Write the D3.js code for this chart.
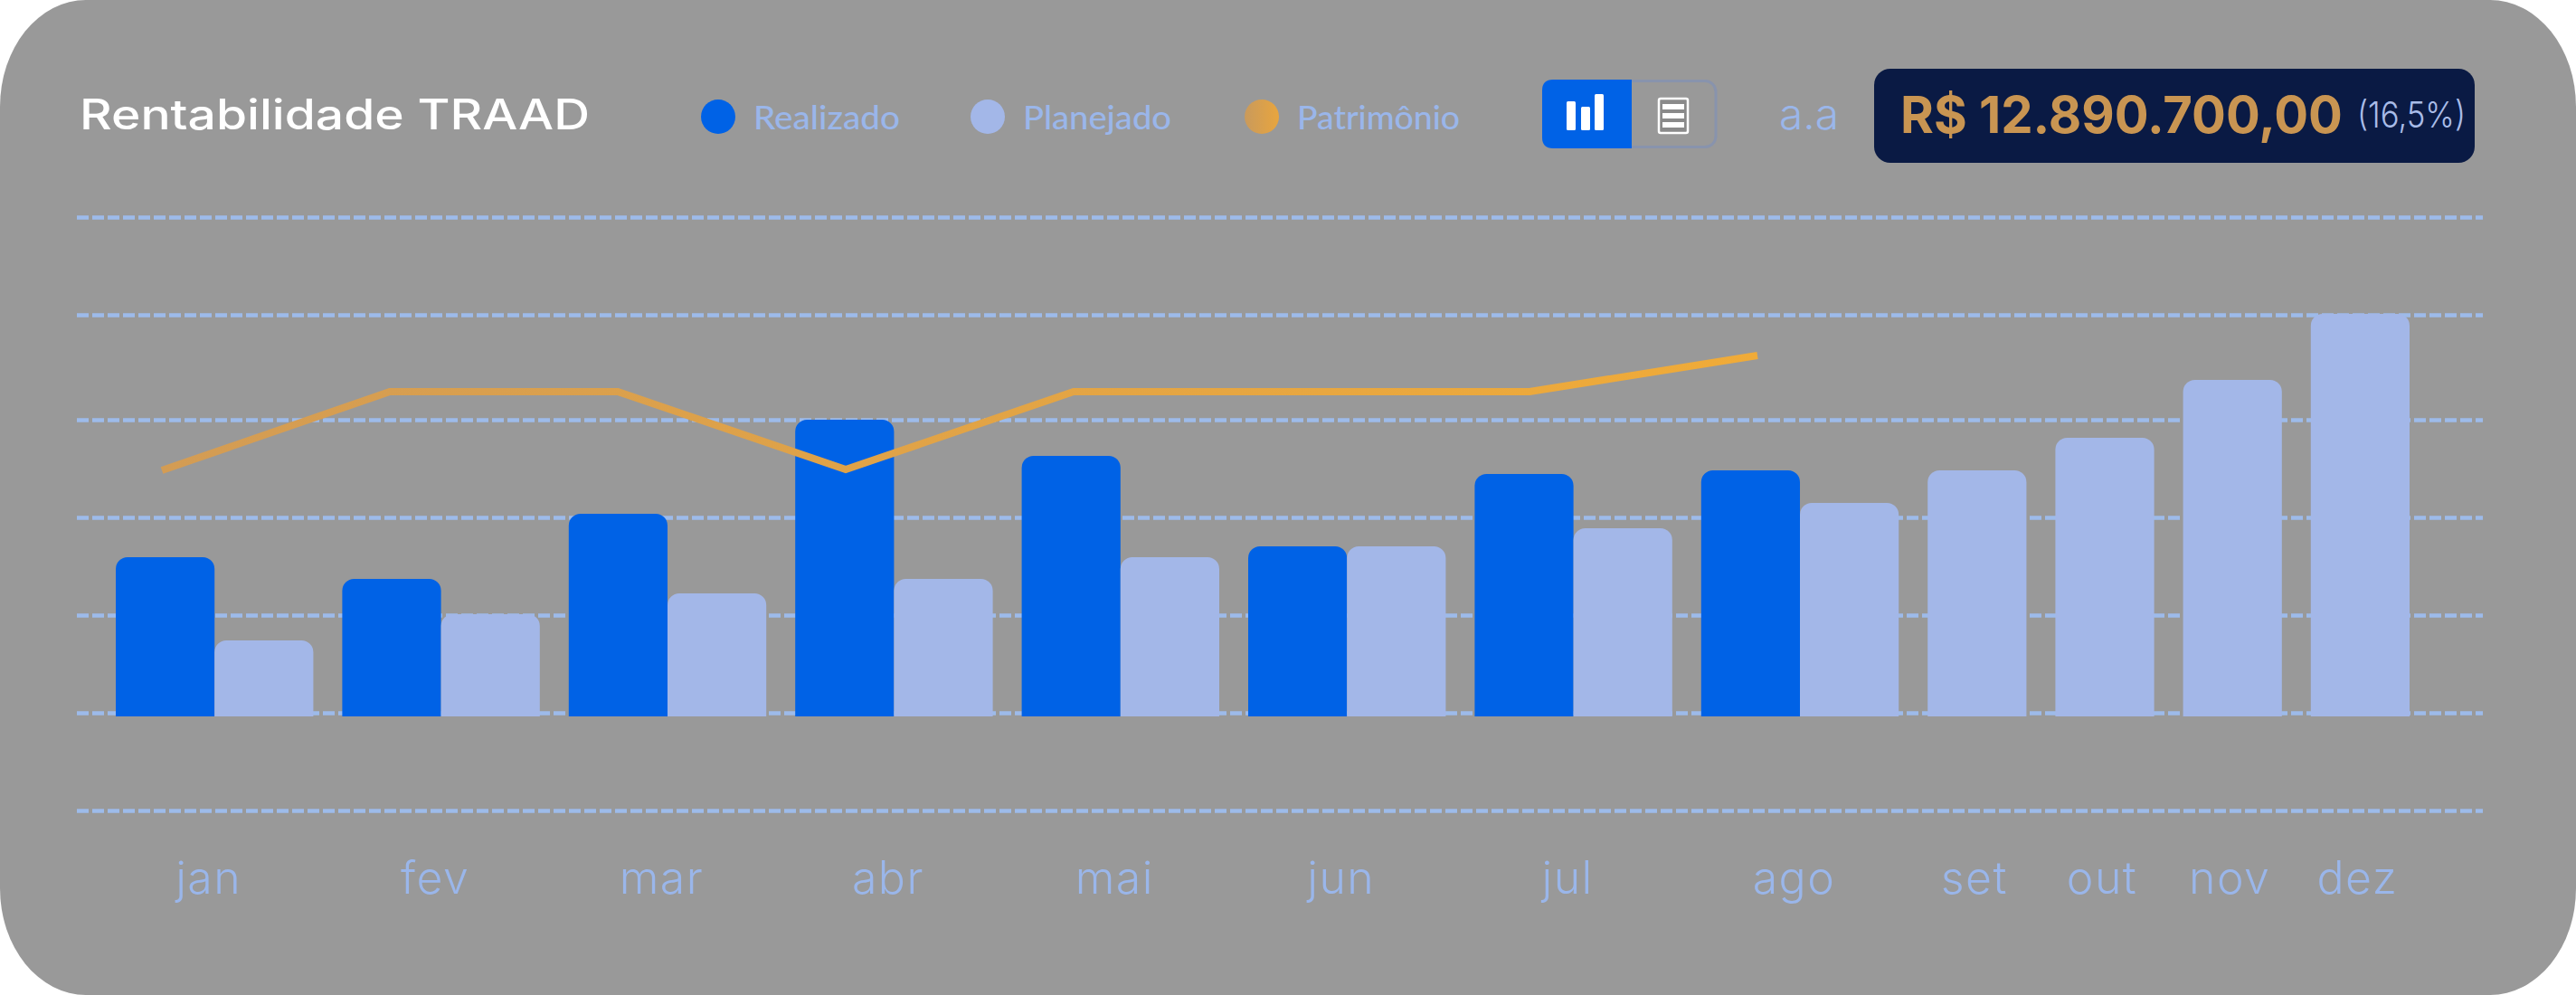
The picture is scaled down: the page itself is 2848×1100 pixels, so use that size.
<!DOCTYPE html>
<html>
<head>
<meta charset="utf-8">
<script src="https://cdn.jsdelivr.net/npm/d3@7"></script>
<style>
  html, body { margin: 0; padding: 0; background: #fff; }
  svg { display: block; }
  text { font-family: Inter, "Open Sans", sans-serif; }
  .grid line { stroke: #9dbbea; stroke-width: 4.5; stroke-dasharray: 13 4; }
  .grid path, .months path, .months line { display: none; }
  .months text { font-size: 50px; font-weight: 300; fill: #9ab6ea; letter-spacing: 1.5px; }
  .legend-label { font-family: Lato, sans-serif; font-size: 36px; font-weight: 500; fill: #9ab6ea; }
</style>
</head>
<body>
<svg id="chart" width="2848" height="1100"></svg>
<script>
const width = 2848;
const height = 1100;

const months = ["jan", "fev", "mar", "abr", "mai", "jun", "jul", "ago", "set", "out", "nov", "dez"];
const realizado = [176, 152, 224, 328, 288, 188, 268, 272, null, null, null, null];
const planejado = [84, 113, 136, 152, 176, 188, 208, 236, 272, 308, 372, 445];
const patrimonio = [272, 359, 359, 273, 359, 359, 359, 399];
const gridValues = [-104, 4, 112, 220, 328, 444, 552];

const legendItems = ["Realizado", "Planejado", "Patrimônio"];
const legendColors = ["#0062e6", "#a3b7e8", "url(#goldLegend)"];
const legendX = [794, 1092, 1395];
const legendLengths = [162, 164, 180];

const svg = d3.select("#chart");
const defs = svg.append("defs");

// gold fades from dull on the left to saturated on the right
const lineGrad = defs.append("linearGradient")
  .attr("id", "goldLine")
  .attr("gradientUnits", "userSpaceOnUse")
  .attr("x1", 179).attr("x2", 1943).attr("y1", 0).attr("y2", 0);
lineGrad.append("stop").attr("offset", 0).attr("stop-color", "#d39c54");
lineGrad.append("stop").attr("offset", 1).attr("stop-color", "#f0ab38");

const legendGrad = defs.append("linearGradient").attr("id", "goldLegend");
legendGrad.append("stop").attr("offset", 0).attr("stop-color", "#c99a5c");
legendGrad.append("stop").attr("offset", 1).attr("stop-color", "#e8a53e");

// panel
svg.append("rect")
  .attr("width", width)
  .attr("height", height)
  .attr("rx", 95)
  .attr("ry", 118)
  .attr("fill", "#999999");

// scales
const yScale = d3.scaleLinear().domain([0, 552]).range([792, 240]);

// months only take the room of the bars they have, so they run in bar units
const gapUnits = 0.293;
const barCount = months.map((m, i) => (realizado[i] === null ? 1 : 2));
const monthStart = months.map((m, i) => d3.sum(barCount.slice(0, i)) + i * gapUnits);
const totalUnits = d3.sum(barCount) + (months.length - 1) * gapUnits;
const xScale = d3.scaleLinear().domain([0, totalUnits]).range([128, 2664]);

const labelScale = d3.scaleOrdinal()
  .domain(months)
  .range(months.map((m, i) => xScale(monthStart[i] + barCount[i] / 2) - 3.5 * barCount[i]));

const lineScale = d3.scalePoint()
  .domain(months.slice(0, patrimonio.length))
  .range([179, 1943]);

// grid
svg.append("g")
  .attr("class", "grid")
  .attr("transform", "translate(85,0)")
  .call(d3.axisLeft(yScale).tickValues(gridValues).tickSize(-2660).tickFormat(""));

// month labels
svg.append("g")
  .attr("class", "months")
  .attr("transform", "translate(0,988)")
  .call(d3.axisBottom(labelScale).tickSize(0).tickPadding(0))
  .selectAll("text")
  .attr("y", 0)
  .attr("dy", 0);

// bars, only the top corners are round
function barPath(x0, x1, value) {
  const r = 13;
  const top = yScale(value);
  const base = yScale(0);
  const p = d3.path();
  p.moveTo(x0, base);
  p.lineTo(x0, top + r);
  p.arcTo(x0, top, x0 + r, top, r);
  p.lineTo(x1 - r, top);
  p.arcTo(x1, top, x1, top + r, r);
  p.lineTo(x1, base);
  p.closePath();
  return p.toString();
}

const barData = [];
months.forEach((m, i) => {
  let pos = monthStart[i];
  if (realizado[i] !== null) {
    barData.push({ start: pos, value: realizado[i], color: "#0062e6" });
    pos += 1;
  }
  barData.push({ start: pos, value: planejado[i], color: "#a3b7e8" });
});

svg.append("g")
  .selectAll("path")
  .data(barData)
  .enter()
  .append("path")
  .attr("d", (d) => barPath(xScale(d.start), xScale(d.start + 1), d.value))
  .attr("fill", (d) => d.color);

// patrimonio line
const line = d3.line()
  .x((d, i) => lineScale(months[i]))
  .y((d) => yScale(d));

svg.append("path")
  .datum(patrimonio)
  .attr("d", line)
  .attr("fill", "none")
  .attr("stroke", "url(#goldLine)")
  .attr("stroke-width", 8)
  .attr("stroke-linejoin", "miter");

// title
svg.append("text")
  .attr("x", 88)
  .attr("y", 143)
  .attr("fill", "#ffffff")
  .attr("textLength", 564)
  .attr("lengthAdjust", "spacingAndGlyphs")
  .style("font-size", "46px")
  .style("font-weight", 550)
  .text("Rentabilidade TRAAD");

// legend
const legend = svg.append("g")
  .selectAll("g")
  .data(legendItems)
  .enter()
  .append("g")
  .attr("transform", (d, i) => `translate(${legendX[i]},129)`);

legend.append("circle")
  .attr("r", 19)
  .attr("fill", (d, i) => legendColors[i]);

legend.append("text")
  .attr("class", "legend-label")
  .attr("x", 39)
  .attr("y", 14)
  .attr("textLength", (d, i) => legendLengths[i])
  .attr("lengthAdjust", "spacingAndGlyphs")
  .text((d) => d);

// chart / table toggle
svg.append("rect")
  .attr("x", 1707).attr("y", 89.5)
  .attr("width", 190).attr("height", 73)
  .attr("rx", 12)
  .attr("fill", "none")
  .attr("stroke", "#8893ad")
  .attr("stroke-width", 3);

svg.append("path")
  .attr("d", "M1804,88H1717Q1705,88 1705,100V152Q1705,164 1717,164H1804Z")
  .attr("fill", "#0062e6");

const toggleBars = [[1732, 112], [1748, 118], [1763, 104]];
svg.append("g")
  .selectAll("rect")
  .data(toggleBars)
  .enter()
  .append("rect")
  .attr("x", (d) => d[0])
  .attr("y", (d) => d[1])
  .attr("width", 10)
  .attr("height", (d) => 144 - d[1])
  .attr("rx", 1.5)
  .attr("fill", "#ffffff");

svg.append("rect")
  .attr("x", 1834).attr("y", 109)
  .attr("width", 32).attr("height", 38)
  .attr("rx", 2)
  .attr("fill", "#8a8a8a")
  .attr("stroke", "#ffffff")
  .attr("stroke-width", 2.5);

svg.append("g")
  .selectAll("rect")
  .data([115, 125, 135])
  .enter()
  .append("rect")
  .attr("x", 1838)
  .attr("y", (d) => d)
  .attr("width", 24)
  .attr("height", 6)
  .attr("fill", "#ffffff");

svg.append("text")
  .attr("x", 1967)
  .attr("y", 143)
  .attr("fill", "#9ab6ea")
  .attr("textLength", 66)
  .attr("lengthAdjust", "spacingAndGlyphs")
  .style("font-size", "48px")
  .style("font-weight", 300)
  .text("a.a");

// total box
svg.append("rect")
  .attr("x", 2072).attr("y", 76)
  .attr("width", 664).attr("height", 104)
  .attr("rx", 18)
  .attr("fill", "#0a1a44");

svg.append("text")
  .attr("x", 2101)
  .attr("y", 147)
  .attr("fill", "#c99552")
  .attr("textLength", 489)
  .attr("lengthAdjust", "spacingAndGlyphs")
  .style("font-size", "57px")
  .style("font-weight", 700)
  .text("R$ 12.890.700,00");

svg.append("text")
  .attr("x", 2606)
  .attr("y", 141)
  .attr("fill", "#a9bce8")
  .attr("textLength", 120)
  .attr("lengthAdjust", "spacingAndGlyphs")
  .style("font-size", "39px")
  .style("font-weight", 300)
  .text("(16,5%)");
</script>
</body>
</html>
